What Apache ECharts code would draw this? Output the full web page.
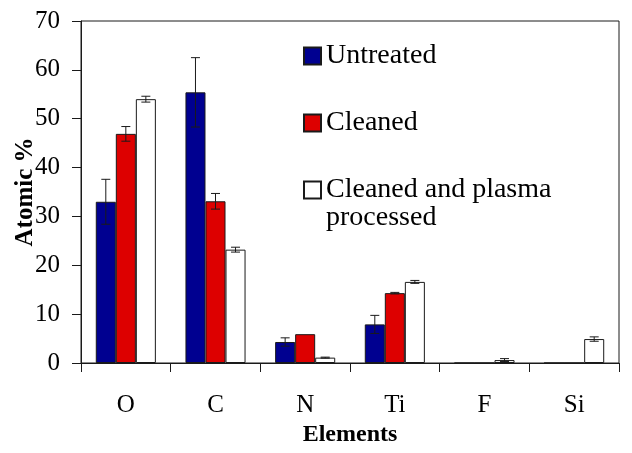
<!DOCTYPE html>
<html>
<head>
<meta charset="utf-8">
<script src="https://cdn.jsdelivr.net/npm/echarts@6/dist/echarts.min.js"></script>
<style>html,body{margin:0;padding:0;background:#fff}#c{width:632px;height:453px}</style>
</head>
<body>
<div id="c"></div>
<script>
var categories = ['O', 'C', 'N', 'Ti', 'F', 'Si'];
var seriesNames = ['Untreated', 'Cleaned', 'Cleaned and plasma processed'];
var untreated = [33.0, 55.4, 4.3, 7.9, 0, 0];
var untreatedErr = [4.6, 7.1, 0.85, 1.85, 0, 0];
var cleaned = [46.9, 33.1, 5.9, 14.3, 0, 0];
var cleanedErr = [1.5, 1.6, 0, 0.15, 0, 0];
var plasma = [54.0, 23.2, 1.1, 16.6, 0.6, 4.9];
var plasmaErr = [0.6, 0.5, 0.1, 0.3, 0.3, 0.45];
var yTicks = [0, 10, 20, 30, 40, 50, 60, 70];

var FONT = 'Liberation Serif';
var INK = '#1a1a1a';
var colors = ['#000090', '#dd0000', '#ffffff'];
var CAT_GAP = 0.33;

function errData(vals, errs) {
  return vals.map(function (v, i) { return [i, v, errs[i]]; });
}

function makeErrRender(offsetIndex) {
  return function (params, api) {
    var x = api.value(0), v = api.value(1), e = api.value(2);
    if (!e) return null;
    var band = api.size([1, 0])[0];
    var bw = band * (1 - CAT_GAP) / 3;
    var c = api.coord([x, v]);
    var cx = c[0] + offsetIndex * bw;
    var top = api.coord([x, v + e])[1];
    var bot = api.coord([x, v - e])[1];
    var hw = 4.5;
    var st = { stroke: INK, lineWidth: 1 };
    return {
      type: 'group',
      children: [
        { type: 'line', shape: { x1: cx, y1: top, x2: cx, y2: bot }, style: st },
        { type: 'line', shape: { x1: cx - hw, y1: top, x2: cx + hw, y2: top }, style: st },
        { type: 'line', shape: { x1: cx - hw, y1: bot, x2: cx + hw, y2: bot }, style: st }
      ]
    };
  };
}

var vals = [untreated, cleaned, plasma];
var errs = [untreatedErr, cleanedErr, plasmaErr];

var series = [];
for (var s = 0; s < 3; s++) {
  series.push({
    name: seriesNames[s],
    type: 'bar',
    data: vals[s],
    barGap: '0%',
    barCategoryGap: (CAT_GAP * 100) + '%',
    itemStyle: { color: colors[s], borderColor: INK, borderWidth: 1 },
    emphasis: { disabled: true },
    z: 2
  });
}
for (var s2 = 0; s2 < 3; s2++) {
  series.push({
    type: 'custom',
    name: seriesNames[s2] + ' error',
    data: errData(vals[s2], errs[s2]),
    renderItem: makeErrRender(s2 - 1),
    encode: { x: 0, y: 1 },
    z: 5,
    silent: true
  });
}

var legendText = { fontFamily: FONT, fontSize: 28, color: '#000', lineHeight: 28 };

var option = {
  animation: false,
  backgroundColor: '#fff',
  grid: { left: 81, right: 13, top: 21, bottom: 90, show: true, borderColor: INK, borderWidth: 1, outerBoundsMode: 'none', containLabel: false },
  legend: [
    {
      data: [seriesNames[0], seriesNames[1]],
      orient: 'vertical', left: 303, top: 42, padding: 0,
      itemWidth: 17, itemHeight: 17, itemGap: 39,
      icon: 'rect', textStyle: legendText, selectedMode: false
    },
    {
      data: [seriesNames[2]],
      orient: 'vertical', left: 303, top: 148, padding: 0,
      itemWidth: 17, itemHeight: 17,
      icon: 'rect', selectedMode: false,
      formatter: function (n) { return '\u00a0\n' + n.replace(' processed', '\nprocessed'); },
      textStyle: legendText
    }
  ],
  xAxis: {
    type: 'category',
    data: categories,
    name: 'Elements',
    nameLocation: 'middle',
    nameGap: 60,
    nameMoveOverlap: false,
    nameTextStyle: { fontFamily: FONT, fontSize: 24, fontWeight: 'bold', color: '#000' },
    axisLine: { lineStyle: { color: INK, width: 1 } },
    axisTick: { show: true, length: 9, inside: false, alignWithLabel: false, lineStyle: { color: INK } },
    axisLabel: { fontFamily: FONT, fontSize: 25, color: '#000', margin: 30 },
    splitLine: { show: false }
  },
  yAxis: {
    type: 'value',
    min: yTicks[0], max: yTicks[yTicks.length - 1], interval: yTicks[1] - yTicks[0],
    name: 'Atomic %',
    nameLocation: 'middle',
    nameGap: 43,
    nameMoveOverlap: false,
    nameRotate: 90,
    nameTextStyle: { fontFamily: FONT, fontSize: 25, fontWeight: 'bold', color: '#000' },
    axisLine: { show: true, lineStyle: { color: INK, width: 1 } },
    axisTick: { show: true, length: 9, inside: false, lineStyle: { color: INK } },
    axisLabel: { fontFamily: FONT, fontSize: 25, color: '#000', margin: 21 },
    splitLine: { show: false }
  },
  series: series
};

var chart = echarts.init(document.getElementById('c'), null, { renderer: 'canvas' });
chart.setOption(option);
</script>
</body>
</html>
